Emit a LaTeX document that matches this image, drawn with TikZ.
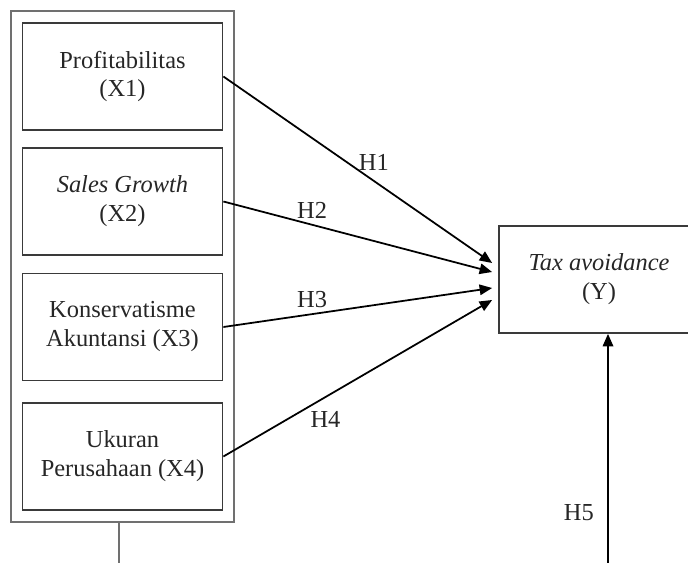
\documentclass[tikz,border=0pt]{standalone}
\usepackage{fontspec}
\setmainfont{Liberation Serif}
\usetikzlibrary{arrows.meta,positioning,fit}
\definecolor{boxcol}{HTML}{3A3A3A}
\definecolor{framecol}{HTML}{707070}

\begin{document}
\begin{tikzpicture}[
  var/.style={draw=boxcol, line width=1pt, minimum width=4cm,
              minimum height=2.14cm, inner sep=0pt, align=center,
              font=\fontsize{13.9}{16.5}\selectfont, text=black!85},
  frame/.style={draw=framecol, line width=1.1pt, inner sep=0.22cm},
  hyp/.style={-{Triangle[length=2.5mm,width=2.1mm]}, line width=1pt},
  hlbl/.style={font=\fontsize{13.9}{16}\selectfont, text=black!85}
]
  \clip (0,0) rectangle (13.76,-11.26);
  \node[var] (x1) at (2.45,-1.53) {Profitabilitas\\(X1)};
  \node[var] (x2) at (2.45,-4.03) {\textit{Sales Growth}\\(X2)};
  \node[var] (x3) at (2.45,-6.54) {Konservatisme\\Akuntansi (X3)};
  \node[var] (x4) at (2.45,-9.13) {Ukuran\\Perusahaan (X4)};
  \node[var] (ty) at (11.98,-5.59) {\textit{Tax avoidance}\\(Y)};
  \node[frame, fit=(x1)(x2)(x3)(x4)] (grp) {};

  \coordinate (cutL) at (2.38,-11.5);
  \coordinate (cutR) at (12.16,-11.5);

  \draw[hyp] (x1.east) -- ([xshift=-1.2mm,yshift=3.3mm]ty.west) node[hlbl, pos=.56, yshift=3.8mm] {H1};
  \draw[hyp] (x2.east) -- ([xshift=-1.2mm,yshift=1.5mm]ty.west) node[hlbl, pos=.33, above] {H2};
  \draw[hyp] (x3.east) -- ([xshift=-1.2mm,yshift=-1.7mm]ty.west) node[hlbl, pos=.33, above] {H3};
  \draw[hyp] (x4.east) -- ([xshift=-1.2mm,yshift=-4.1mm]ty.west) node[hlbl, pos=.38, below, yshift=-1.5mm] {H4};
  \draw[framecol, line width=1.1pt] (grp.south -| cutL) -- (cutL);
  \draw[hyp] (cutR) -- (cutR |- ty.south) node[hlbl, pos=.26, left, xshift=-1.5mm] {H5};
\end{tikzpicture}
\end{document}
